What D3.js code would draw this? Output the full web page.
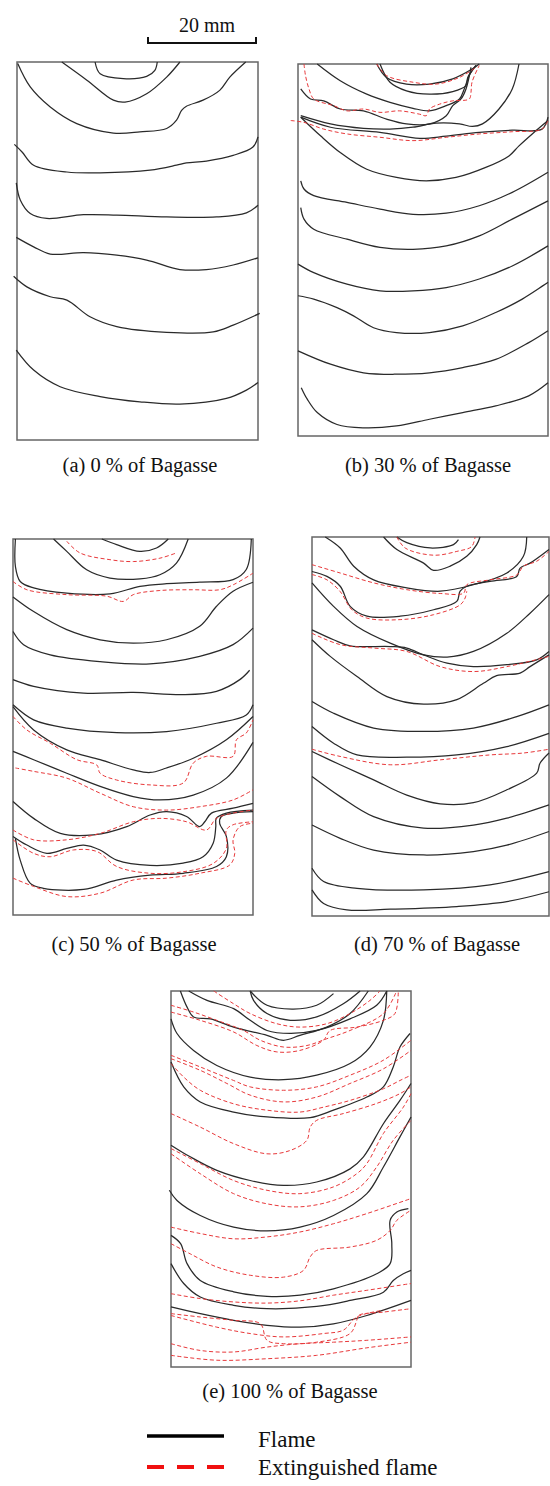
<!DOCTYPE html>
<html>
<head>
<meta charset="utf-8">
<script src="https://cdn.jsdelivr.net/npm/d3@7"></script>
<style>
  body { margin: 0; background: #fff; }
  svg { display: block; }
</style>
</head>
<body>
<svg id="chart"></svg>
<script>
// Flame-front traces.
// Each curve: [x, y] in % of the sample frame (x: left wall -> right wall, y: top -> bottom).

const captions = ["(a) 0 % of Bagasse", "(b) 30 % of Bagasse", "(c) 50 % of Bagasse",
  "(d) 70 % of Bagasse", "(e) 100 % of Bagasse"];
const legendLabels = ["Flame", "Extinguished flame"];
const scaleBarLabel = "20 mm";

const flameA = [
  [[32.4,0],[34.5,3.1],[44.1,4.4],[53.8,3.8],[57.2,2.2],[58.2,0]],
  [[18.6,0],[29,4.8],[40,10.1],[44.8,10.6],[53.8,8.4],[62.1,4],[67.6,0]],
  [[0.3,0.4],[5.5,6.6],[13.8,11.9],[24.8,16.3],[40,18.8],[51,18.5],[62.1,17.6],[66.2,15.4],[68.3,12.8],[70.3,11.7],[77.2,10.1],[84.1,7.5],[88.3,4],[94.9,0]],
  [[-1.1,21.8],[2.1,23.8],[6.9,27.3],[20.7,29.1],[34.5,29.3],[55.2,28.6],[66.2,27.3],[70.3,26.7],[78.6,26.2],[89.7,24.7],[97.9,22.5],[100,19.8]],
  [[-0.3,32],[1.4,36.6],[5.5,40.1],[12.4,41.4],[27.6,40.4],[41.4,40.5],[62.1,41],[82.8,41],[95.2,39.9],[100,37.9]],
  [[-0.3,46.4],[6.9,48.9],[13.8,50.8],[27.6,50.4],[41.4,51.1],[53.8,52.4],[67.6,54.9],[78.6,54.9],[89.7,53.7],[100,51.8]],
  [[-1.4,56.7],[4.1,59.5],[13.8,62.1],[20.7,63],[30.3,67.4],[41.4,70],[62.1,71.5],[81.4,71.4],[89.7,69.6],[100.7,66.5]],
  [[-0.3,76.2],[6.9,81.5],[17.9,85.9],[34.5,88.5],[51,89.9],[67.6,90.5],[86.9,89],[95.2,86.8],[100,84.8]]
];
const extinguishedA = [];

const flameB = [
  [[31.5,0],[35.4,3.6],[43.4,5.4],[52.6,5.4],[61.9,4],[69.8,1.3],[72.5,0]],
  [[32.8,0],[36.8,4.9],[43.4,7.2],[52.6,8.1],[61.9,7.4],[67.2,5.8],[67.9,3.6],[71.2,0.4]],
  [[7.7,0],[16.9,4.5],[27.5,8.1],[36.8,10.3],[46,11.9],[52.6,12.6],[59.3,11.2],[64.6,9.4],[66.5,6.7],[68.5,3.1],[71.2,0.4]],
  [[1.1,6.7],[5,9.4],[10.3,9.9],[16.9,12.1],[26.2,12.6],[35.4,14.8],[43.4,16.1],[52.6,16.1],[59.3,13.9],[61.9,11.2],[65.2,9.4],[67.2,6.7],[69.2,0.9]],
  [[88.4,0],[85.7,6.7],[80.4,12.1],[73.8,16.1],[69.8,16.8],[64.6,16.1],[55.3,15.9],[46,17],[36.8,17.5],[26.2,17.3],[13,16.1],[1.1,13.9]],
  [[1.1,14.3],[13,17],[32.8,18.4],[48.7,20],[59.3,19.4],[72.5,18.4],[85.7,17.8],[97.6,17.5],[100,14.3]],
  [[1.1,14.3],[9,19.3],[16.9,23.8],[27.5,28.3],[39.4,30.5],[51.3,31.4],[63.2,30.5],[75.1,27.8],[84.4,24.7],[88.4,22],[93.7,18.8],[100,15.2]],
  [[1.1,31.4],[2.4,33.6],[6.3,35.4],[19.6,37.2],[32.8,39],[46,40.4],[59.3,40.1],[72.5,38.1],[85.7,34.5],[100,29.1]],
  [[1.1,38.6],[2.4,41.7],[6.3,44.4],[19.6,47.1],[32.8,49.3],[46,49.8],[59.3,48.9],[72.5,46.2],[85.7,41.7],[100,36.8]],
  [[0,53.8],[6.3,56.1],[19.6,59.2],[32.8,61],[46,61],[59.3,60.1],[72.5,57.8],[85.7,54.3],[100,48.9]],
  [[0,62.3],[6.3,63.2],[15.6,65.5],[22.2,67.7],[30.2,70.9],[39.4,72.2],[52.6,72.2],[65.9,70.4],[79.1,66.8],[89.7,63.2],[100,58.7]],
  [[0,77.1],[13,80.7],[26.2,83],[39.4,83.4],[52.6,83],[65.9,81.6],[79.1,79.4],[92.3,74.9],[100,71.7]],
  [[1.3,87],[3.7,90.1],[7.7,93.7],[15.6,96.9],[26.2,97.8],[39.4,97.3],[52.6,95.5],[65.9,93.7],[79.1,91.9],[92.3,89.2],[100,85.7]]
];
const extinguishedB = [
  [[2.4,0],[3,3.1],[4.4,6.7],[6.3,9.4],[14.3,11.2],[19.6,12.6],[26.2,12.1],[32.8,13],[40.7,12.6],[48.7,13.5],[51.3,13.9],[52.6,12.1],[56.6,10.8],[61.9,9.9],[68.5,9.4],[69.2,7.6],[69.6,4.9],[72.5,0.4]],
  [[31.5,0],[35.4,3.1],[46,4.9],[55.3,5.4],[64.6,3.6],[71.2,0.9]],
  [[-2.9,15.2],[2.4,15.7],[10.3,17.5],[19.6,18.8],[32.8,19.7],[46,20.6],[59.3,19.7],[72.5,18.8],[85.7,18.2],[97.6,17.5],[100,15.2]]
];

const flameC = [
  [[37,0],[43.2,1.5],[52.9,3.3],[59.8,2.4],[64.7,0]],
  [[16.9,0],[22.4,3.3],[30.7,8.2],[40.4,10.4],[52.9,10.6],[61.2,9.5],[68.1,6.4],[73,0]],
  [[1,0],[1,7.3],[3,11.3],[8.6,13],[22.4,14.4],[40.4,14.6],[52.9,12.6],[64,11.9],[77.8,11.5],[91.7,10.8],[97.2,8.1],[99.3,0]],
  [[0,15.4],[8.6,19.3],[22.4,24.1],[36.3,26.8],[50.1,27.7],[64,26.8],[77.8,23.2],[84.8,17.9],[91.7,13.9],[100,11.5]],
  [[0,24.6],[4.4,28.1],[15.5,30.8],[36.3,32.6],[57.1,33.2],[77.8,31.2],[91.7,28.1],[100,23.7]],
  [[0,37.4],[8.6,39.2],[29.4,41],[50.1,40.8],[71,41.4],[84.8,40.5],[94.5,37.4],[98.6,34.9]],
  [[0,44.1],[8.6,48.1],[22.4,50.3],[43.2,51.5],[64,51.2],[84.8,49],[97.2,46.8],[100,44.1]],
  [[0,44.6],[8.6,50.8],[22.4,56.1],[36.3,58.7],[50.1,61.4],[57.1,62.1],[64,60.9],[75.1,58.3],[88.9,53.4],[100,47.2]],
  [[0,56.5],[8.6,58.7],[22.4,62.3],[36.3,65.8],[50.1,68.5],[61.2,69.4],[75.1,68.1],[88.9,63.6],[100,54.1]],
  [[0,69.8],[8.6,74.3],[19.7,78.3],[33.5,78.7],[47.4,76.5],[57.1,73.4],[64,72.5],[72.3,73.8],[77.8,76.5],[79.9,75.2],[82.7,72.9],[91.7,71.6],[100,70.3]],
  [[0,79.1],[5.8,81.4],[14.1,83.6],[22.4,82.3],[29.4,81.4],[36.3,82.7],[43.2,85.4],[57.1,86.8],[70.9,86.2],[79.2,84.5],[83.4,80.9],[84.5,76.5],[84.7,74.3],[88.9,72.9],[100,72.1]],
  [[1,79.6],[3,85.4],[7.2,91.6],[12.7,92.9],[29.4,93.2],[43.2,90.7],[57.1,89.4],[70.9,88.9],[84.8,87.1],[88.9,84.5],[88.9,79.1],[86.1,75.6],[86.8,73.8],[91.7,72.9],[100,72.5]]
];
const extinguishedC = [
  [[22.4,0.6],[27.9,3.7],[40.4,5.5],[50.1,6],[61.2,5.1],[68.1,3.7]],
  [[0,11.3],[5.8,13.5],[22.4,14.8],[39,15.2],[46,16.6],[50.1,14.8],[61.2,13.7],[75.1,13.5],[86.1,13.5],[91.7,12.2],[100,9.1]],
  [[0,47.2],[5.8,50.8],[15.5,54.3],[26.6,58.7],[34.9,60.1],[36.3,62.3],[43.2,64.1],[57.1,65.4],[70.9,64.9],[75.1,59.6],[80.6,57.8],[91.7,57.8],[93.1,53.4],[97.2,51.6],[100,48.1]],
  [[1,60.9],[8.6,61.8],[22.4,63.6],[36.3,67.6],[50.1,71.2],[64,72.1],[77.8,71.2],[91.7,69.4],[100,66.7]],
  [[0,77.4],[8.6,80],[22.4,80],[36.3,78.3],[50.1,75.2],[61.2,74.3],[72.3,75.2],[80.6,77.4],[84.7,74.3],[91.7,72.9],[100,72.1]],
  [[0,80],[8.6,83.6],[15.5,84.5],[25.2,82.7],[34.9,83.1],[43.2,87.1],[57.1,88.9],[70.9,88.5],[83.4,86.3],[88.9,82.3],[88.9,77.4],[91.7,76],[100,75.2]],
  [[0,90.2],[8.6,92.4],[22.4,95.1],[36.3,94.2],[50.1,90.7],[64,90.2],[77.8,88.9],[90.3,86.7],[92.4,83.6],[91.7,80],[94.5,76.5],[100,75.6]]
];

const flameD = [
  [[30.2,0],[35.8,3.3],[47.1,6.9],[51.3,8.8],[58.3,7.7],[65.3,5.1],[69.5,2],[70.9,0]],
  [[35.8,0],[40,1.5],[49.9,2.9],[59.7,2],[61.8,0.7]],
  [[5.6,0],[11.9,2.9],[17.6,7.7],[26,11.3],[40,13.4],[54.1,14.3],[68.1,12.6],[82.2,9.5],[89.2,5.1],[90.6,0]],
  [[0,9.1],[6.3,10.4],[11.9,13],[16.1,18.3],[23.2,20.9],[37.2,20.9],[51.3,19.2],[61.1,17],[62.5,14.3],[65.3,13],[75.1,11.7],[86.4,10.4],[87.8,8.2],[92,6.9],[100,3.3]],
  [[0,12.1],[9.1,18.3],[19,23.6],[33,28],[47.1,31.1],[57,31.7],[68.1,30.2],[82.2,25.4],[92,20.1],[100,15.2]],
  [[0,24.5],[9.1,27.1],[16.1,28.7],[33,28.9],[40,29.3],[47.1,31.1],[57,33.3],[68.1,34.2],[82.2,33.7],[94.8,32.4],[100,30.2]],
  [[0,27.1],[7.7,31.5],[19,36.8],[31.6,42.1],[47.1,44.1],[61.1,42.9],[72.3,38.6],[77.9,36.6],[87.8,35.9],[92,34.2],[100,31.1]],
  [[0,43.4],[9.1,46.5],[26,50.4],[47.1,51.3],[68.1,50.4],[86.4,47.4],[100,44.3]],
  [[0,50],[9.1,54.4],[19,57.5],[40,58.1],[61.1,57.5],[82.2,55.3],[100,51.8]],
  [[0,56.6],[11.9,60.1],[26,64.1],[40,68.1],[54.1,70.4],[68.1,70.1],[82.2,66.7],[94.8,62.3],[96.2,59.7],[100,57]],
  [[0,63.2],[11.9,68.5],[26,73.8],[47.1,76.8],[68.1,76],[82.2,74.2],[100,70.7]],
  [[0,76],[11.9,79.5],[26,82.6],[47.1,83.9],[68.1,83],[82.2,81.3],[100,77.7]],
  [[0,87.4],[4.9,90.9],[19,92.7],[47.1,93.1],[75.1,91.8],[100,88.3]],
  [[0,93.1],[4.9,96.7],[14.7,98.4],[33,98.2],[61.1,97.5],[82.2,96.2],[100,93.6]]
];
const extinguishedD = [
  [[35.8,0],[39.3,2.9],[51.3,4.8],[61.1,3.8],[67.4,2.5],[68.8,0]],
  [[0,7.3],[11.9,9.5],[26,12.1],[40,13.9],[54.1,14.9],[64,14.8],[65.3,12.6],[75.1,11.3],[86.4,10],[89.2,7.7],[94.8,6.4],[100,3.8]],
  [[0,9.9],[6.3,11.3],[11.9,14.4],[16.8,19.2],[23.2,21.4],[37.2,21.8],[51.3,20.5],[62.5,17.9],[64.6,16.1],[65.3,14.3]],
  [[0,25.4],[11.9,28.4],[26,29.3],[40,30.2],[54.1,34.2],[68.1,35.5],[82.2,34.2],[100,31.5]],
  [[0,56],[11.9,57.9],[33,60.1],[54.1,58.8],[75.1,57.5],[89.2,57],[100,56]]
];

const flameE = [
  [[33,0],[40,3.8],[51,4.8],[60.7,3.8],[67.7,0.7]],
  [[33,0],[34.4,2.5],[40,6],[49.7,7.8],[60.7,6.9],[71.8,3.4],[78.8,0]],
  [[3.9,0],[6.7,4.3],[9.4,6.9],[16.4,7.4],[26.1,9.6],[40,11.8],[46.9,13.1],[53.7,11.8],[64.9,9.6],[74.6,6],[82.2,0]],
  [[7.4,0],[15,2.5],[26.1,4.7],[33,7.8],[40,10.5],[49.7,11.3],[60.7,10.5],[74.6,7.4],[85.7,3.8],[89.9,0]],
  [[0,7.4],[2.5,11.3],[9.4,15.8],[19.1,19.8],[33,22.9],[46.9,23.6],[60.7,22.4],[74.6,19.3],[82.9,14.9],[88.5,7.8],[89.9,0]],
  [[0,18.9],[5.3,25.5],[12.2,29.5],[26.1,32.2],[40,33.5],[58,33.7],[67.7,31.7],[81.6,28.2],[88.5,25.5],[92.6,20.2],[95.4,14.9],[99.6,11.3]],
  [[0,41],[8,44.1],[19.1,47.7],[33,50.4],[46.9,51.7],[60.7,50.8],[74.6,47.3],[80.2,44.1],[88.5,35.3],[95.4,29.1],[100,24.6]],
  [[-0.7,53],[2.5,55.7],[12.2,59.7],[26.1,62.8],[40,63.8],[53.8,62.8],[67.7,59.7],[81.6,53.9],[88.5,46.8],[95.4,38.8],[100,33.5]],
  [[0,65],[4,67.2],[6.7,72.5],[12.2,77],[26.1,80],[40,81.2],[53.8,80.9],[67.7,79.2],[85.7,75.2],[91.3,72.5],[92,67.2],[91.3,61],[94.1,58.8],[98.9,57.9]],
  [[0,72.5],[5.3,77.8],[12.2,81.4],[26.1,83.6],[40,84.5],[60.7,83.9],[74.6,82.3],[88.5,80.1],[92.6,77],[96.8,75.2],[100,74.3]],
  [[0,84],[12.2,85.8],[26.1,87.6],[40,88.9],[53.8,89.4],[67.7,88.5],[81.6,86.3],[100,82.3]]
];
const extinguishedE = [
  [[17.8,0],[26.1,3.4],[33,6],[44.1,8.7],[53.7,9.6],[64.9,8.7],[74.6,6],[82.9,2.5],[87.1,0]],
  [[0,3.8],[9.4,5.6],[19.1,7.8],[30.2,10.5],[37.2,13.1],[46.9,14.9],[56.6,14.5],[64.9,12.7],[74.6,10.5],[88.5,6],[94,0]],
  [[0,5.6],[12.2,7.8],[26.1,10.9],[35.8,14.5],[44.1,16.2],[53.7,15.8],[63.5,13.1],[66.3,10.5],[77.4,9.6],[88.5,7.8],[93.3,6],[94.7,0]],
  [[0,17.1],[12.2,20.2],[26.1,23.8],[33,25.5],[46.9,26.4],[60.7,25.5],[74.6,22.4],[88.5,18.4],[100,13.1]],
  [[0,18],[12.2,21.1],[23.3,24.6],[33,27.7],[46.9,29.5],[60.7,28.2],[74.6,24.6],[88.5,20.7],[100,15.8]],
  [[0,19.3],[5.3,22.9],[12.2,26.4],[26.1,30],[40,31.7],[53.7,32.2],[63.5,30.9],[74.6,29.1],[88.5,26],[95.4,23.8],[100,22.4]],
  [[0,32.6],[12.2,36.2],[26.1,40.6],[40,43.3],[49.7,42.4],[56.6,39.7],[58,36.2],[60.7,34.4],[71.8,32.6],[85.7,29.9],[95.4,27.3],[100,25.5]],
  [[0,41.9],[12.2,45.9],[26.1,50.4],[40,53],[53.7,53.9],[67.7,52.1],[77.4,48.6],[81.6,45.9],[88.5,37.9],[96.8,30.9],[100,27.3]],
  [[0,43.3],[12.2,48.6],[26.1,53.9],[40,56.6],[53.7,57.4],[67.7,55.7],[78.8,52.1],[85.7,46.8],[92.6,39.7],[100,34.4]],
  [[0,62.8],[12.2,64.5],[26.1,65.9],[40,65.4],[53.7,64.1],[67.7,61.9],[81.6,59.2],[100,55.2]],
  [[0,67.2],[8,69.9],[19.1,73.4],[33,75.6],[46.9,76.1],[55.2,74.3],[58,70.7],[60.7,69],[74.6,68.1],[85.7,66.3],[91.3,63.7],[94.1,61],[100,58.3]],
  [[0,80.5],[12.2,81.8],[26.1,82.7],[40,83],[53.7,82.4],[67.7,80.9],[81.6,79.6],[100,77.8]],
  [[0,85.8],[12.2,86.7],[26.1,87.6],[37.2,88.5],[40,92.9],[46.9,93.8],[60.7,93.4],[74.6,91.1],[77.4,87.6],[78.1,86.3],[88.5,85.4],[100,84.5]],
  [[0,86.3],[19.1,89.4],[33,91.1],[46.9,92],[63.5,91.1],[71.8,90.2],[77.4,86.7],[88.5,84.9]],
  [[0,93.8],[12.2,95.6],[26.1,96],[40,94.7],[53.7,93.8],[67.7,93.4],[81.6,92.9],[100,92]],
  [[0,96.9],[19.1,98.2],[40,97.8],[60.7,96.9],[81.6,94.9],[100,93.4]]
];

// ---------- layout ----------
const W = 550, H = 1486;
const frames = [
  { x0: 17,  x1: 258, y0: 62,  y1: 440, capX: 140, capY: 472 },
  { x0: 298, x1: 548, y0: 64,  y1: 436, capX: 428, capY: 472 },
  { x0: 13,  x1: 253, y0: 539, y1: 915, capX: 134, capY: 951 },
  { x0: 312, x1: 549, y0: 537, y1: 916, capX: 437, capY: 951 },
  { x0: 171, x1: 411, y0: 991, y1: 1367, capX: 290, capY: 1398 }
];
const flames = [flameA, flameB, flameC, flameD, flameE];
const extinguished = [extinguishedA, extinguishedB, extinguishedC, extinguishedD, extinguishedE];

const FLAME = "#2a2a2a";
const RED = "#e8383a";
const FONT = "'Liberation Serif', 'Times New Roman', serif";

const svg = d3.select("#chart").attr("width", W).attr("height", H);
svg.append("rect").attr("width", W).attr("height", H).attr("fill", "#fff");

frames.forEach((f, i) => {
  const x = d3.scaleLinear().domain([0, 100]).range([f.x0, f.x1]);
  const y = d3.scaleLinear().domain([0, 100]).range([f.y0, f.y1]);
  const line = d3.line().x(d => x(d[0])).y(d => y(d[1])).curve(d3.curveCatmullRom.alpha(0.5));

  const g = svg.append("g").attr("class", "panel");

  g.append("rect")
    .attr("x", f.x0).attr("y", f.y0)
    .attr("width", f.x1 - f.x0).attr("height", f.y1 - f.y0)
    .attr("fill", "none").attr("stroke", "#666").attr("stroke-width", 1.5);

  g.selectAll(".flame")
    .data(flames[i])
    .join("path")
    .attr("class", "flame")
    .attr("d", line)
    .attr("fill", "none")
    .attr("stroke", FLAME)
    .attr("stroke-width", 1.25);

  g.selectAll(".ext")
    .data(extinguished[i])
    .join("path")
    .attr("class", "ext")
    .attr("d", line)
    .attr("fill", "none")
    .attr("stroke", RED)
    .attr("stroke-width", 1)
    .attr("stroke-dasharray", "4,2.5");

  g.append("text")
    .attr("x", f.capX)
    .attr("y", f.capY)
    .attr("text-anchor", "middle")
    .attr("font-family", FONT)
    .attr("font-size", 20.5)
    .attr("fill", "#111")
    .text(captions[i]);
});

// ---------- scale bar ----------
const bar = svg.append("g");
bar.append("path")
  .attr("d", d3.line()([[148, 37], [148, 43], [256, 43], [256, 37]]))
  .attr("fill", "none").attr("stroke", "#111").attr("stroke-width", 2);
bar.append("text")
  .attr("x", 207).attr("y", 32)
  .attr("text-anchor", "middle")
  .attr("font-family", FONT).attr("font-size", 20).attr("fill", "#111")
  .text(scaleBarLabel);

// ---------- legend ----------
const legend = svg.append("g").attr("transform", "translate(147,1436)");
legend.append("line")
  .attr("x1", 0).attr("x2", 77).attr("y1", 0).attr("y2", 0)
  .attr("stroke", "#000").attr("stroke-width", 3.5);
legend.append("line")
  .attr("x1", 0).attr("x2", 77).attr("y1", 31).attr("y2", 31)
  .attr("stroke", "#f01010").attr("stroke-width", 4)
  .attr("stroke-dasharray", "17,13");
legend.selectAll(".lab")
  .data(legendLabels)
  .join("text")
  .attr("class", "lab")
  .attr("x", 111)
  .attr("y", (d, i) => 11 + i * 28)
  .attr("font-family", FONT).attr("font-size", 23).attr("fill", "#111")
  .text(d => d);
</script>
</body>
</html>
